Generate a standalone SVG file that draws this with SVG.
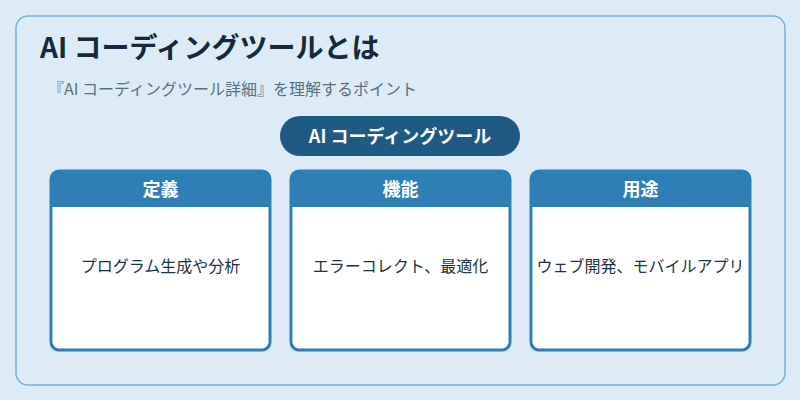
<svg xmlns="http://www.w3.org/2000/svg" width="800" height="400" viewBox="0 0 800 400">
<style>
text{font-family:"Noto Sans CJK JP","Noto Sans",sans-serif}
.card{fill:#fff;stroke:#2e7fb5;stroke-width:3}
.hdr{fill:#2e7fb5}
.ht{fill:#fff;font-size:18px;font-weight:bold;text-anchor:middle}
.bt{fill:#1c3344;font-size:16px;text-anchor:middle}
</style>
<rect width="800" height="400" fill="#dcebf6"/>
<rect x="16" y="16" width="769" height="369" rx="12" fill="#dcebf6" stroke="#7ab0d4" stroke-width="1.5"/>
<text x="40" y="58" font-size="28" font-weight="bold" fill="#16293a">AI コーディングツールとは</text>
<text x="48" y="95" font-size="16" fill="#5a6f80">『AI コーディングツール詳細』を理解するポイント</text>
<g id="root"><rect x="280" y="116" width="240" height="40" rx="20" fill="#1f5a85"/>
<text x="400" y="143" font-size="18" font-weight="bold" fill="#fff" text-anchor="middle">AI コーディングツール</text></g>
<g id="n1"><rect class="card" x="51" y="171" width="219" height="179" rx="8"/>
<path class="hdr" d="M51,207 V179 a8,8 0 0 1 8,-8 H262 a8,8 0 0 1 8,8 V207 Z"/>
<text class="ht" x="160.5" y="196">定義</text>
<text class="bt" x="160.5" y="272">プログラム生成や分析</text></g>
<g id="n2"><rect class="card" x="291" y="171" width="219" height="179" rx="8"/>
<path class="hdr" d="M291,207 V179 a8,8 0 0 1 8,-8 H502 a8,8 0 0 1 8,8 V207 Z"/>
<text class="ht" x="400.5" y="196">機能</text>
<text class="bt" x="400.5" y="272">エラーコレクト、最適化</text></g>
<g id="n3"><rect class="card" x="531" y="171" width="219" height="179" rx="8"/>
<path class="hdr" d="M531,207 V179 a8,8 0 0 1 8,-8 H742 a8,8 0 0 1 8,8 V207 Z"/>
<text class="ht" x="640.5" y="196">用途</text>
<text class="bt" x="640.5" y="272">ウェブ開発、モバイルアプリ</text></g>
<g id="connectors"/>
</svg>
